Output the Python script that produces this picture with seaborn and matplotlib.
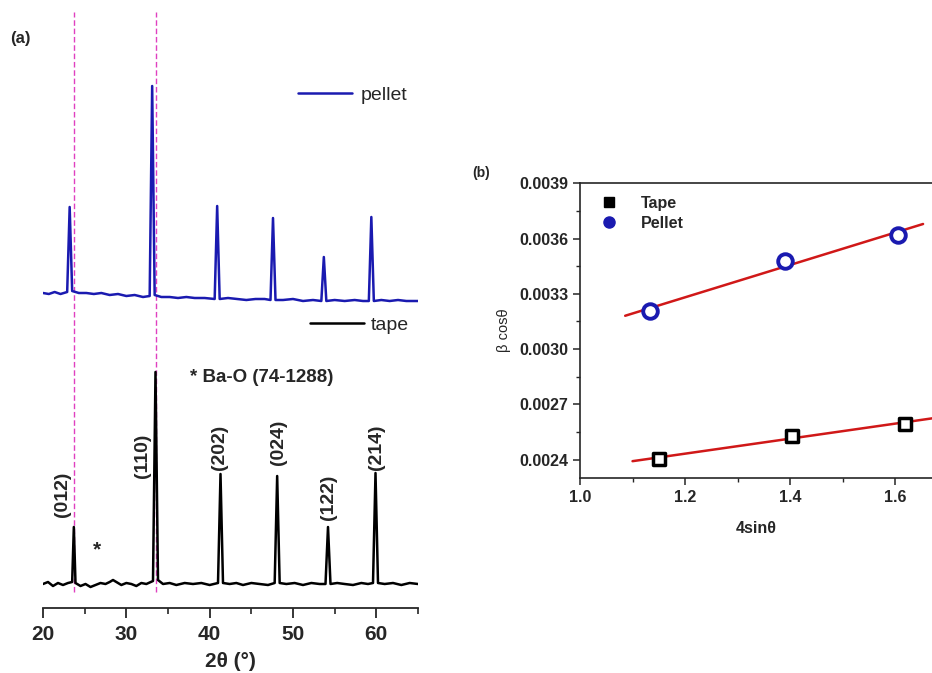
import numpy as np
import matplotlib
matplotlib.use("Agg")
from matplotlib import pyplot as plt
from matplotlib.lines import Line2D
from matplotlib.ticker import AutoMinorLocator, FormatStrFormatter, MultipleLocator
import seaborn as sns

# ---- panel (a): XRD traces (a.u.) ----
tape_2theta = [20.0, 20.6, 21.2, 21.8, 22.4, 23.0, 23.5, 23.7, 23.9, 24.5, 25.1, 25.7,
               26.3, 26.9, 27.5, 28.0, 28.4, 28.8, 29.4, 30.0, 30.6, 31.2, 31.8, 32.4,
               33.2, 33.5, 33.8, 34.4, 35.2, 36.0, 37.0, 38.0, 39.0, 40.0, 41.0, 41.3,
               41.6, 42.4, 43.2, 44.0, 45.0, 46.0, 47.0, 47.8, 48.1, 48.4, 49.2, 50.2,
               51.2, 52.2, 53.2, 53.9, 54.2, 54.5, 55.3, 56.2, 57.2, 58.2, 59.0, 59.6,
               59.9, 60.2, 61.0, 62.0, 63.0, 64.0, 65.0]
tape_int = [0, 2, -2, 1, -1, 1, 2, 57, 1, -2, 0, -3,
            -1, 1, 0, 2, 4, 2, -1, 1, 0, -2, 1, 0,
            3, 212, 4, 0, 1, -1, 1, 0, 1, -1, 1, 110,
            1, 0, 1, -1, 1, 0, -1, 1, 108, 1, 0, 1,
            -1, 1, 0, 0, 57, 0, 1, 0, -1, 1, 0, 1,
            111, 1, 0, 1, -1, 1, 0]

pellet_2theta = [20.0, 20.7, 21.4, 22.1, 22.9, 23.2, 23.5, 24.3, 25.2, 26.1, 27.0, 28.0,
                 29.0, 30.0, 31.0, 32.0, 32.8, 33.1, 33.4, 34.2, 35.2, 36.2, 37.2, 38.2,
                 39.4, 40.6, 40.9, 41.2, 42.2, 43.3, 44.4, 45.5, 46.6, 47.3, 47.6, 47.9,
                 48.8, 50.0, 51.2, 52.4, 53.4, 53.7, 54.0, 55.0, 56.2, 57.4, 58.4, 59.1,
                 59.4, 59.7, 60.6, 61.6, 62.6, 63.6, 64.4, 65.0]
pellet_int = [3, 2, 4, 2, 4, 89, 5, 3, 3, 2, 3, 1,
              2, 0, 1, -1, 0, 210, 1, -1, -1, -2, -1, -2,
              -2, -3, 90, -3, -2, -3, -4, -3, -3, -4, 78, -4,
              -4, -3, -5, -4, -5, 39, -5, -4, -5, -4, -5, -5,
              79, -5, -4, -5, -4, -5, -5, -5]
pellet_offset = 288

ref_lines = [23.7, 33.5]
hkl_labels = ["(012)", "(110)", "(202)", "(024)", "(122)", "(214)"]
hkl_x = [22.3, 32.0, 41.2, 48.2, 54.2, 60.0]
hkl_y = [90, 128, 137, 142, 87, 137]

# ---- panel (b): Williamson-Hall ----
tape_x = [1.150, 1.404, 1.619]
tape_y = [0.002405, 0.00253, 0.002595]
pellet_x = [1.133, 1.390, 1.605]
pellet_y = [0.003208, 0.003479, 0.00362]
tape_fit_range = [1.10, 1.70]
pellet_fit_range = [1.086, 1.653]

blue = "#1a1ab0"
red = "#d01818"

sns.set_style("ticks")
plt.rcParams["font.family"] = ["Liberation Sans", "DejaVu Sans"]

fig = plt.figure(figsize=(9.32, 6.73), dpi=100)

# ---------- (a) ----------
ax_a = fig.add_axes([43 / 932, 1 - 608 / 673, 375 / 932, 608 / 673])
sns.lineplot(x=tape_2theta, y=tape_int, color="black", lw=1.8, sort=False,
             estimator=None, ax=ax_a)
sns.lineplot(x=pellet_2theta, y=np.array(pellet_int) + pellet_offset, color=blue,
             lw=1.8, sort=False, estimator=None, ax=ax_a)
ax_a.vlines(ref_lines, -8, 572, colors="#e040c0", linestyles=(0, (4, 2)), lw=1.0, zorder=0)

for lab, x, y in zip(hkl_labels, hkl_x, hkl_y):
    ax_a.text(x, y, lab, rotation=90, ha="center", va="center", fontsize=14,
              fontweight="bold")
ax_a.text(26.5, 34, "*", ha="center", va="center", fontsize=15, fontweight="bold")
ax_a.text(37.6, 206, "* Ba-O (74-1288)", ha="left", va="center", fontsize=13.5,
          fontweight="bold")

ax_a.set_xlim(20, 65)
ax_a.set_ylim(-24, 584)
ax_a.set_yticks([])
ax_a.xaxis.set_major_locator(MultipleLocator(10))
ax_a.xaxis.set_minor_locator(MultipleLocator(5))
ax_a.tick_params(axis="x", which="major", direction="out", length=7, width=1.3,
                 labelsize=15, pad=5)
ax_a.tick_params(axis="x", which="minor", direction="out", length=4, width=1.2)
for lbl in ax_a.get_xticklabels():
    lbl.set_fontweight("bold")
for side in ["top", "right", "left"]:
    ax_a.spines[side].set_visible(False)
ax_a.spines["bottom"].set_linewidth(1.3)
ax_a.set_xlabel("2θ (°)", fontsize=15, fontweight="bold", labelpad=6)
ax_a.set_ylabel("")

leg1 = ax_a.legend(handles=[Line2D([], [], color=blue, lw=1.8)], labels=["pellet"],
                   loc="center left", bbox_to_anchor=(0.68, 0.844), frameon=False,
                   handlelength=2.8, handletextpad=0.4, borderpad=0, borderaxespad=0,
                   fontsize=14)
ax_a.add_artist(leg1)
ax_a.legend(handles=[Line2D([], [], color="black", lw=1.8)], labels=["tape"],
            loc="center left", bbox_to_anchor=(0.712, 0.465), frameon=False,
            handlelength=2.8, handletextpad=0.3, borderpad=0, borderaxespad=0,
            fontsize=14)

fig.text(10 / 932, 1 - 38 / 673, "(a)", fontsize=12, fontweight="bold", va="center")

# ---------- (b) ----------
ax_b = fig.add_axes([580 / 932, 1 - 478 / 673, 352 / 932, (478 - 183.3) / 673])
sns.scatterplot(x=tape_x, y=tape_y, marker="s", s=80, facecolor="white",
                edgecolor="black", linewidth=2.5, zorder=3, ax=ax_b)
sns.scatterplot(x=pellet_x, y=pellet_y, marker="o", s=110, facecolor="white",
                edgecolor=blue, linewidth=2.8, zorder=3, ax=ax_b)

for xs, ys, rng in [(tape_x, tape_y, tape_fit_range), (pellet_x, pellet_y, pellet_fit_range)]:
    slope, icpt = np.polyfit(xs, ys, 1)
    fx = np.array(rng)
    sns.lineplot(x=fx, y=slope * fx + icpt, color=red, lw=1.8, ax=ax_b, zorder=2)

ax_b.set_xlim(1.0, 1.67)
ax_b.set_ylim(0.0023, 0.0039)
ax_b.set_xticks([1.0, 1.2, 1.4, 1.6])
ax_b.set_yticks([0.0024, 0.0027, 0.0030, 0.0033, 0.0036, 0.0039])
ax_b.xaxis.set_major_formatter(FormatStrFormatter("%.1f"))
ax_b.yaxis.set_major_formatter(FormatStrFormatter("%.4f"))
ax_b.xaxis.set_minor_locator(AutoMinorLocator(2))
ax_b.yaxis.set_minor_locator(AutoMinorLocator(2))
ax_b.tick_params(which="major", direction="out", length=5, width=1.1, labelsize=11.5)
ax_b.tick_params(which="minor", direction="out", length=3, width=1.0)
for lbl in ax_b.get_xticklabels() + ax_b.get_yticklabels():
    lbl.set_fontweight("bold")
ax_b.spines["right"].set_visible(False)
for side in ["top", "left", "bottom"]:
    ax_b.spines[side].set_linewidth(1.2)
ax_b.set_xlabel("4sinθ", fontsize=11.5, fontweight="bold", labelpad=12)
ax_b.set_ylabel("β cosθ", fontsize=10.5, labelpad=6)

handles = [Line2D([], [], marker="s", ls="", color="black", markersize=7),
           Line2D([], [], marker="o", ls="", color=blue, markersize=8)]
ax_b.legend(handles=handles, labels=["Tape", "Pellet"], loc="upper left",
            frameon=False, prop={"weight": "bold", "size": 11.5},
            handletextpad=1.0, borderaxespad=0.4, labelspacing=0.3)

fig.text(472 / 932, 1 - 173 / 673, "(b)", fontsize=10, fontweight="bold", va="center")

fig.savefig("out.png", dpi=100)
